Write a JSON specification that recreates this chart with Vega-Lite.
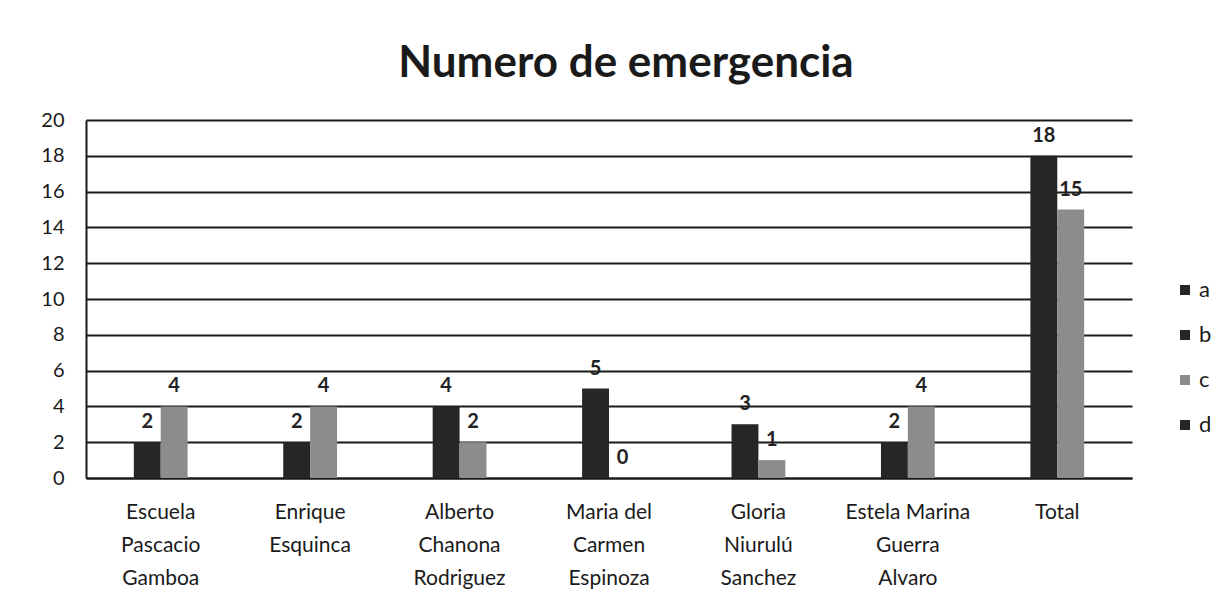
{
  "$schema": "https://vega.github.io/schema/vega-lite/v6.json",
  "width": 1046,
  "height": 358,
  "padding": {"left": 40, "top": 42, "right": 10, "bottom": 5},
  "background": "white",
  "title": {"text": "Numero de emergencia", "fontSize": 44, "font": "Lato", "fontWeight": "bold", "color": "#1a1a1a", "offset": 24, "anchor": "middle", "dx": 17},
  "data": {"values": [
    {"escuela": "Escuela|Pascacio|Gamboa", "serie": "b", "valor": 2},
    {"escuela": "Escuela|Pascacio|Gamboa", "serie": "c", "valor": 4},
    {"escuela": "Enrique|Esquinca", "serie": "b", "valor": 2},
    {"escuela": "Enrique|Esquinca", "serie": "c", "valor": 4},
    {"escuela": "Alberto|Chanona|Rodriguez", "serie": "b", "valor": 4},
    {"escuela": "Alberto|Chanona|Rodriguez", "serie": "c", "valor": 2},
    {"escuela": "Maria del|Carmen|Espinoza", "serie": "b", "valor": 5},
    {"escuela": "Maria del|Carmen|Espinoza", "serie": "c", "valor": 0},
    {"escuela": "Gloria|Niurulú|Sanchez", "serie": "b", "valor": 3},
    {"escuela": "Gloria|Niurulú|Sanchez", "serie": "c", "valor": 1},
    {"escuela": "Estela Marina|Guerra|Alvaro", "serie": "b", "valor": 2},
    {"escuela": "Estela Marina|Guerra|Alvaro", "serie": "c", "valor": 4},
    {"escuela": "Total", "serie": "b", "valor": 18},
    {"escuela": "Total", "serie": "c", "valor": 15}
  ]},
  "encoding": {
    "x": {"field": "escuela", "type": "nominal", "sort": null,
      "scale": {"paddingInner": 0.28, "paddingOuter": 0.14},
      "axis": {"title": null, "labelAngle": 0, "labelExpr": "split(datum.value, '|')", "labelFontSize": 21, "labelFont": "Lato", "labelColor": "#1a1a1a", "labelLineHeight": 33, "labelPadding": 23, "ticks": false, "domain": true, "domainColor": "#1a1a1a", "domainWidth": 2, "labelBaseline": "top"}},
    "xOffset": {"field": "serie", "type": "nominal", "scale": {"domain": ["a", "b", "c", "d"], "paddingInner": 0}},
    "y": {"field": "valor", "type": "quantitative", "scale": {"domain": [0, 20]},
      "axis": {"title": null, "values": [0,2,4,6,8,10,12,14,16,18,20], "labelFontSize": 20, "labelFont": "Lato", "labelColor": "#1a1a1a", "grid": true, "gridColor": "#1a1a1a", "gridWidth": 2, "domain": true, "domainColor": "#1a1a1a", "domainWidth": 2, "ticks": false, "labelPadding": 22}}
  },
  "layer": [
    {"mark": {"type": "bar"},
      "encoding": {"color": {"field": "serie", "type": "nominal",
        "scale": {"domain": ["a", "b", "c", "d"], "range": ["#262626", "#262626", "#8c8c8c", "#262626"]},
        "legend": {"title": null, "orient": "none", "legendX": 1088, "legendY": 159, "symbolType": "square", "symbolSize": 100, "labelFontSize": 22, "labelFont": "Lato", "labelColor": "#1a1a1a", "rowPadding": 23, "labelOffset": 3, "symbolOpacity": 1}}}},
    {"mark": {"type": "text", "baseline": "bottom", "dy": -10, "fontSize": 20, "font": "Lato", "fontWeight": "bold", "color": "#222"},
      "encoding": {"text": {"field": "valor", "type": "quantitative"}}}
  ],
  "config": {"view": {"stroke": null}}
}
